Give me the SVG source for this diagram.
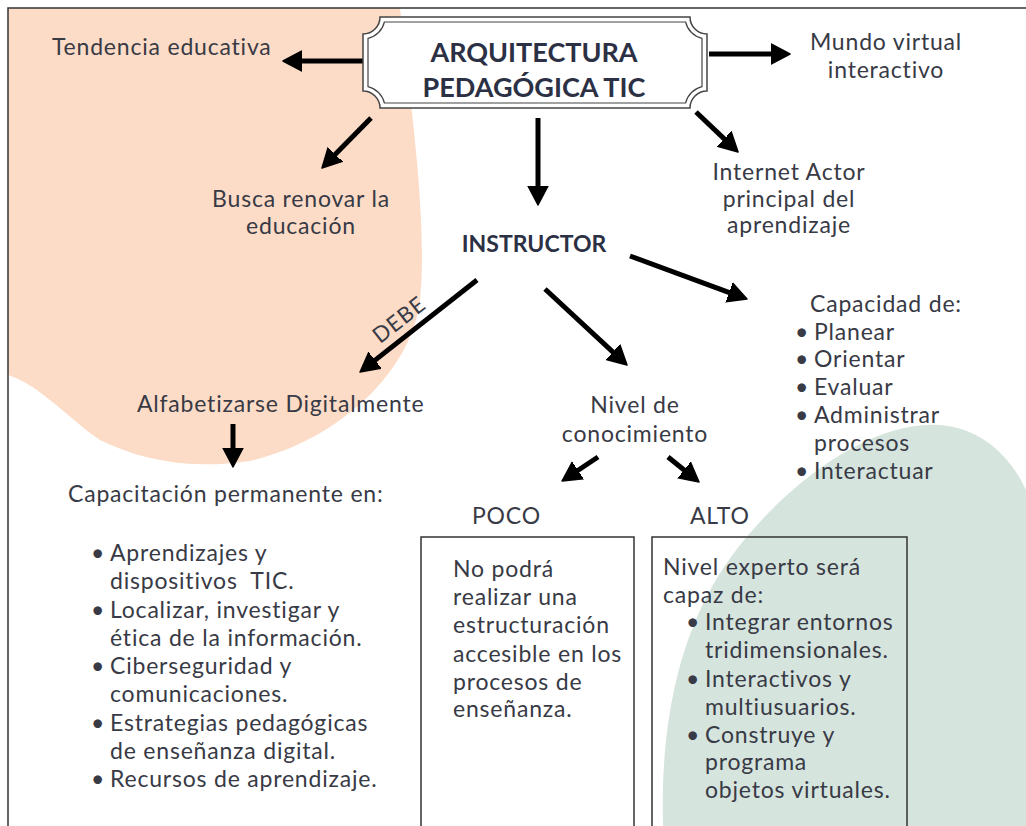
<svg xmlns="http://www.w3.org/2000/svg" width="1026" height="826" viewBox="0 0 1026 826">
<defs>
<style>
.t{font-family:Lato,"Liberation Sans",sans-serif;font-size:23px;letter-spacing:0.8px;fill:#383a45}
.m{text-anchor:middle}
.b{font-weight:bold;fill:#2c3044;letter-spacing:0}
.arr{stroke:#000;stroke-width:5;fill:none;marker-end:url(#ah)}
.box{fill:none;stroke:#333;stroke-width:1.5}
</style>
<marker id="ah" markerUnits="userSpaceOnUse" markerWidth="22" markerHeight="24" refX="1" refY="11" orient="auto">
<path d="M0,1 L19,11 L0,21 Z" fill="#000" stroke="#000" stroke-width="1.5" stroke-linejoin="round"/>
</marker>
</defs>
<rect width="1026" height="826" fill="#fff"/>
<g id="background">
<path d="M8 8 H400 C410 100 428 220 420 300 C412 370 340 440 250 461 C190 470 140 460 100 440 C70 420 40 385 8 375 Z" fill="#fcdcc7"/>
<path d="M663 826 C660 720 680 620 740 545 C800 470 880 420 940 425 C980 428 1010 455 1026 490 V826 Z" fill="#d6e4de"/>
<path d="M8 826 V8 H1026" fill="none" stroke="#333" stroke-width="1.5"/>
</g>
<g id="connectors">
<line class="arr" x1="363" y1="61" x2="301" y2="61"/>
<line class="arr" x1="709" y1="54" x2="772" y2="54"/>
<line class="arr" x1="371" y1="118" x2="334.6" y2="155.1"/>
<line class="arr" x1="538" y1="118" x2="538" y2="187"/>
<line class="arr" x1="696" y1="112" x2="725" y2="139.6"/>
<line class="arr" x1="630" y1="256" x2="730.1" y2="292.8"/>
<line class="arr" x1="545" y1="289" x2="613.8" y2="352.8"/>
<line class="arr" x1="477" y1="280" x2="374.2" y2="360.9"/>
<line class="arr" x1="233" y1="424" x2="233" y2="449"/>
<line class="arr" x1="598" y1="457" x2="577" y2="471"/>
<line class="arr" x1="668" y1="457" x2="685" y2="470.7"/>
<text class="t m" transform="translate(400 321) rotate(-38)" y="6" style="font-size:22px;letter-spacing:1px">DEBE</text>
</g>
<g id="title">
<path d="M380 17 H690 A17 17 0 0 0 707 34 V91 A17 17 0 0 0 690 108 H380 A17 17 0 0 0 363 91 V34 A17 17 0 0 0 380 17 Z" fill="#fff" stroke="#444" stroke-width="1.5"/>
<path d="M384.4 22 H685.6 A22 22 0 0 0 702 38.4 V86.6 A22 22 0 0 0 685.6 103 H384.4 A22 22 0 0 0 368 86.6 V38.4 A22 22 0 0 0 384.4 22 Z" fill="none" stroke="#444" stroke-width="1.2"/>
<text class="t m b" x="534" y="62" style="font-size:27px">ARQUITECTURA</text>
<text class="t m b" x="534" y="97" style="font-size:27px">PEDAGÓGICA TIC</text>
</g>
<g id="tendencia"><text class="t" x="52" y="55">Tendencia educativa</text></g>
<g id="mundo"><text class="t m" x="886" y="50">Mundo virtual</text><text class="t m" x="886" y="78">interactivo</text></g>
<g id="busca"><text class="t m" x="301" y="207">Busca renovar la</text><text class="t m" x="301" y="234">educación</text></g>
<g id="internet"><text class="t m" x="789" y="180">Internet Actor</text><text class="t m" x="789" y="207">principal del</text><text class="t m" x="789" y="233">aprendizaje</text></g>
<g id="instructor"><text class="t m b" x="534" y="252">INSTRUCTOR</text></g>
<g id="capacidad">
<text class="t" x="810" y="312">Capacidad de:</text>
<text class="t" x="795" y="340">•</text><text class="t" x="814" y="340">Planear</text>
<text class="t" x="795" y="367">•</text><text class="t" x="814" y="367">Orientar</text>
<text class="t" x="795" y="395">•</text><text class="t" x="814" y="395">Evaluar</text>
<text class="t" x="795" y="423">•</text><text class="t" x="814" y="423">Administrar</text>
<text class="t" x="814" y="451">procesos</text>
<text class="t" x="795" y="479">•</text><text class="t" x="814" y="479">Interactuar</text>
</g>
<g id="alfabetizarse"><text class="t" x="137" y="412">Alfabetizarse Digitalmente</text></g>
<g id="nivel"><text class="t m" x="635" y="413">Nivel de</text><text class="t m" x="635" y="442">conocimiento</text></g>
<g id="capacitacion">
<text class="t" x="68" y="502">Capacitación permanente en:</text>
<text class="t" x="91" y="561">•</text><text class="t" x="110" y="561">Aprendizajes y</text>
<text class="t" x="110" y="589">dispositivos&#160; TIC.</text>
<text class="t" x="91" y="617.5">•</text><text class="t" x="110" y="617.5">Localizar, investigar y</text>
<text class="t" x="110" y="646">ética de la información.</text>
<text class="t" x="91" y="674">•</text><text class="t" x="110" y="674">Ciberseguridad y</text>
<text class="t" x="110" y="702">comunicaciones.</text>
<text class="t" x="91" y="730.5">•</text><text class="t" x="110" y="730.5">Estrategias pedagógicas</text>
<text class="t" x="110" y="759">de enseñanza digital.</text>
<text class="t" x="91" y="787">•</text><text class="t" x="110" y="787">Recursos de aprendizaje.</text>
</g>
<g id="poco">
<text class="t" x="472" y="524">POCO</text>
<path class="box" d="M421 826 V537 H634 V826"/>
<text class="t" x="453" y="577">No podrá</text>
<text class="t" x="453" y="605">realizar una</text>
<text class="t" x="453" y="633">estructuración</text>
<text class="t" x="453" y="662">accesible en los</text>
<text class="t" x="453" y="690">procesos de</text>
<text class="t" x="453" y="717">enseñanza.</text>
</g>
<g id="alto">
<text class="t" x="690" y="524">ALTO</text>
<path class="box" d="M652 826 V537 H907 V826"/>
<text class="t" x="663" y="575">Nivel experto será</text>
<text class="t" x="663" y="603">capaz de:</text>
<text class="t" x="686" y="630">•</text><text class="t" x="705" y="630">Integrar entornos</text>
<text class="t" x="705" y="658">tridimensionales.</text>
<text class="t" x="686" y="687">•</text><text class="t" x="705" y="687">Interactivos y</text>
<text class="t" x="705" y="715">multiusuarios.</text>
<text class="t" x="686" y="743">•</text><text class="t" x="705" y="743">Construye y</text>
<text class="t" x="705" y="770">programa</text>
<text class="t" x="705" y="798">objetos virtuales.</text>
</g>
</svg>
